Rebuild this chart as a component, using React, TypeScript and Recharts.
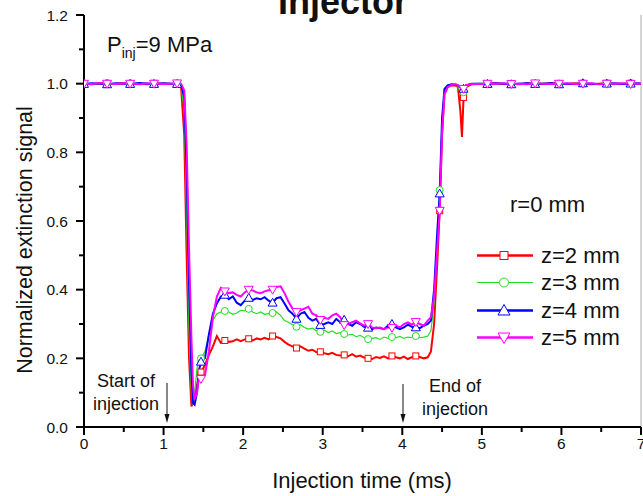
import { LineChart, Line, XAxis, YAxis, Legend, ReferenceLine } from 'recharts';

const time = [
  0, 0.1, 0.2, 0.29, 0.4, 0.5, 0.58, 0.7, 0.8, 0.88, 1.0, 1.1, 1.17,
  1.22, 1.26, 1.29, 1.32, 1.35, 1.37, 1.39, 1.42, 1.44,
  1.47, 1.52, 1.57, 1.62, 1.67, 1.72,
  1.77, 1.82, 1.87, 1.92, 1.97, 2.02, 2.07, 2.12, 2.17, 2.22,
  2.27, 2.32, 2.37, 2.42, 2.47, 2.52, 2.57, 2.62, 2.67, 2.72,
  2.77, 2.82, 2.87, 2.92, 2.97, 3.02, 3.07, 3.12, 3.17, 3.22,
  3.27, 3.32, 3.37, 3.42, 3.47, 3.52, 3.57, 3.62, 3.67, 3.72,
  3.77, 3.82, 3.87, 3.92, 3.97, 4.02, 4.07, 4.12, 4.17, 4.22,
  4.27, 4.32,
  4.36, 4.4, 4.44, 4.47, 4.5, 4.53, 4.57, 4.62, 4.67, 4.7, 4.73, 4.75, 4.77, 4.8, 4.87,
  4.97, 5.07, 5.17, 5.27, 5.37, 5.47, 5.57, 5.67, 5.77, 5.87, 5.97,
  6.07, 6.17, 6.27, 6.37, 6.47, 6.57, 6.67, 6.77, 6.87, 6.97, 7.0,
];

const z2 = [
  1.0, 0.998, 1.001, 0.999, 1.0, 1.002, 0.999, 1.0, 0.998, 1.001, 1.0, 0.999, 1.0,
  0.99, 0.85, 0.5, 0.2, 0.06, 0.07, 0.09, 0.12, 0.14,
  0.16, 0.18, 0.21, 0.235, 0.265, 0.245,
  0.252, 0.248, 0.25, 0.255, 0.25, 0.255, 0.257, 0.252, 0.258, 0.255,
  0.26, 0.255, 0.265, 0.262, 0.258, 0.248, 0.24, 0.235, 0.23, 0.235,
  0.228, 0.222, 0.225, 0.218, 0.219, 0.215, 0.212, 0.216, 0.21, 0.208,
  0.21, 0.206, 0.212, 0.205, 0.208, 0.202, 0.2, 0.198, 0.204, 0.201,
  0.206, 0.2, 0.207, 0.203, 0.2, 0.205, 0.198, 0.203, 0.207, 0.204,
  0.2, 0.203,
  0.22, 0.3, 0.48, 0.63, 0.85, 0.97, 0.99, 0.995, 0.995, 0.99, 0.92, 0.845, 0.96, 0.99, 0.998,
  0.999, 1.0, 1.001, 0.999, 1.0, 0.998, 1.001, 1.0, 0.999, 1.002, 1.0,
  0.999, 1.001, 1.0, 0.998, 1.0, 1.001, 0.999, 1.0, 1.001, 0.999, 1.0,
];

const z3 = [
  1.001, 1.0, 0.999, 1.002, 1.0, 0.999, 1.001, 1.0, 1.002, 0.999, 1.0, 1.001, 1.0,
  0.995, 0.92, 0.62, 0.28, 0.1, 0.065, 0.1, 0.17, 0.2,
  0.2, 0.22, 0.27, 0.31, 0.33, 0.335,
  0.338, 0.335, 0.328, 0.332, 0.34, 0.338, 0.344, 0.335, 0.33, 0.335,
  0.328, 0.33, 0.332, 0.335, 0.325, 0.31, 0.305, 0.298, 0.292, 0.298,
  0.29, 0.285, 0.288, 0.28, 0.277, 0.282, 0.275, 0.28, 0.272, 0.275,
  0.271, 0.268, 0.27, 0.263, 0.267, 0.26, 0.256, 0.258, 0.26, 0.255,
  0.262, 0.258, 0.262, 0.26, 0.264, 0.258, 0.262, 0.26, 0.265, 0.26,
  0.262, 0.265,
  0.28, 0.36, 0.55, 0.69, 0.9, 0.98, 0.995, 0.998, 0.997, 0.99, 0.975, 0.97, 0.975, 0.99, 1.0,
  1.001, 1.0, 0.999, 1.002, 1.0, 1.001, 0.999, 1.0, 1.002, 1.0, 0.999,
  1.001, 1.0, 1.002, 0.999, 1.0, 1.001, 1.0, 0.999, 1.002, 1.0, 1.0,
];

const z4 = [
  0.999, 1.001, 1.0, 0.998, 1.001, 1.0, 0.999, 1.002, 1.0, 0.999, 1.001, 1.0, 0.999,
  0.998, 0.96, 0.75, 0.42, 0.16, 0.07, 0.065, 0.1, 0.16,
  0.19, 0.2, 0.27, 0.33, 0.36, 0.38,
  0.385, 0.372, 0.38, 0.362, 0.355, 0.368, 0.376, 0.37, 0.375, 0.372,
  0.378, 0.368, 0.362, 0.375, 0.378, 0.36, 0.34, 0.33, 0.315, 0.33,
  0.335, 0.318, 0.31, 0.315, 0.297, 0.3, 0.305, 0.3, 0.315, 0.305,
  0.312, 0.3, 0.295, 0.305, 0.3, 0.292, 0.289, 0.285, 0.29, 0.288,
  0.285, 0.295, 0.3, 0.29, 0.285, 0.29, 0.298, 0.292, 0.29, 0.288,
  0.295, 0.3,
  0.31, 0.4, 0.57, 0.68, 0.9, 0.985, 0.995, 0.998, 0.997, 0.995, 0.99, 0.988, 0.985, 0.995, 1.0,
  1.0, 0.999, 1.001, 1.0, 0.998, 1.0, 1.001, 0.999, 1.0, 1.001, 0.998,
  1.0, 0.999, 1.001, 1.0, 0.999, 1.0, 1.001, 0.999, 1.0, 1.001, 1.0,
];

const z5 = [
  1.0, 0.999, 1.002, 1.0, 0.999, 1.001, 1.0, 0.998, 1.001, 1.0, 0.999, 1.0, 1.001,
  1.0, 0.98, 0.82, 0.52, 0.26, 0.12, 0.08, 0.1, 0.14,
  0.14, 0.15, 0.22, 0.32, 0.38, 0.405,
  0.395, 0.39, 0.392, 0.385, 0.38, 0.392, 0.4, 0.398, 0.392, 0.39,
  0.395, 0.398, 0.4, 0.408, 0.41, 0.39, 0.365, 0.345, 0.335, 0.34,
  0.345, 0.35, 0.33, 0.325, 0.312, 0.318, 0.315, 0.325, 0.33, 0.32,
  0.297, 0.3, 0.305, 0.31, 0.302, 0.295, 0.3, 0.29, 0.288, 0.29,
  0.285, 0.29, 0.289, 0.295, 0.29, 0.3, 0.305, 0.298, 0.306, 0.3,
  0.295, 0.31,
  0.32, 0.38, 0.52, 0.63, 0.86, 0.97, 0.99, 0.997, 0.998, 0.996, 0.99, 0.988, 0.985, 0.995, 0.999,
  0.999, 1.0, 1.0, 1.001, 0.999, 1.0, 0.998, 1.001, 1.0, 0.999, 1.0,
  1.001, 0.999, 1.0, 1.001, 0.998, 1.0, 1.0, 1.001, 0.999, 1.0, 1.0,
];

const markerTimes = [
  0, 0.29, 0.58, 0.88, 1.17, 1.47, 1.77, 2.07, 2.37, 2.67, 2.97, 3.27,
  3.57, 3.87, 4.17, 4.47, 4.77, 5.07, 5.37, 5.67, 5.97, 6.27, 6.57, 6.87,
];

const seriesNames = ['z=2 mm', 'z=3 mm', 'z=4 mm', 'z=5 mm'];
const xTicks = [0, 0.5, 1, 1.5, 2, 2.5, 3, 3.5, 4, 4.5, 5, 5.5, 6, 6.5, 7];
const yTicks = [0, 0.1, 0.2, 0.3, 0.4, 0.5, 0.6, 0.7, 0.8, 0.9, 1.0, 1.1, 1.2];

const data = time.map((t, i) => ({ t, z2: z2[i], z3: z3[i], z4: z4[i], z5: z5[i] }));

type Shape = 'square' | 'circle' | 'up' | 'down';

const series: { key: string; color: string; width: number; shape: Shape }[] = [
  { key: 'z2', color: '#ff0000', width: 2, shape: 'square' },
  { key: 'z3', color: '#22dd22', width: 1.2, shape: 'circle' },
  { key: 'z4', color: '#0000ff', width: 2, shape: 'up' },
  { key: 'z5', color: '#ff00ff', width: 2, shape: 'down' },
];

const FONT = '"Liberation Sans", Arial, sans-serif';

function Marker({ shape, cx, cy, size, color }: { shape: Shape; cx: number; cy: number; size: number; color: string }) {
  const h = size / 2;
  if (shape === 'square') {
    return <rect x={cx - h} y={cy - h} width={size} height={size} fill="#fff" stroke={color} strokeWidth={1} />;
  }
  if (shape === 'circle') {
    return <circle cx={cx} cy={cy} r={h} fill="#fff" stroke={color} strokeWidth={1} />;
  }
  if (shape === 'up') {
    return (
      <polygon
        points={`${cx},${cy - h} ${cx + h},${cy + h * 0.75} ${cx - h},${cy + h * 0.75}`}
        fill="#fff"
        stroke={color}
        strokeWidth={1}
      />
    );
  }
  return (
    <polygon
      points={`${cx},${cy + h} ${cx + h},${cy - h * 0.75} ${cx - h},${cy - h * 0.75}`}
      fill="#fff"
      stroke={color}
      strokeWidth={1}
    />
  );
}

function XTick(props: any) {
  const { x, y, payload } = props;
  const major = Number.isInteger(payload.value);
  return (
    <g>
      <line x1={x} y1={y} x2={x} y2={y + (major ? 8 : 5)} stroke="#000" strokeWidth={2} />
      {major && (
        <text x={x} y={y + 22} textAnchor="middle" fontSize={15.5} fontFamily={FONT} fill="#111">
          {payload.value}
        </text>
      )}
    </g>
  );
}

function YTick(props: any) {
  const { x, y, payload } = props;
  const major = Math.round(payload.value * 10) % 2 === 0;
  return (
    <g>
      <line x1={x} y1={y} x2={x - (major ? 8 : 5)} y2={y} stroke="#000" strokeWidth={2} />
      {major && (
        <text x={x - 16} y={y + 5.5} textAnchor="end" fontSize={15.5} fontFamily={FONT} fill="#111">
          {payload.value.toFixed(1)}
        </text>
      )}
    </g>
  );
}

function LegendBox() {
  return (
    <div style={{ fontFamily: FONT }}>
      {series.map((s, i) => (
        <div key={s.key} style={{ display: 'flex', alignItems: 'center', height: 27.3 }}>
          <svg width={64} height={27} style={{ display: 'block' }}>
            <line x1={0} y1={13.5} x2={56} y2={13.5} stroke={s.color} strokeWidth={s.width < 2 ? 1 : 2.5} />
            <Marker shape={s.shape} cx={27} cy={13.5} size={s.shape === 'square' ? 8 : s.shape === 'circle' ? 9 : 12} color={s.color} />
          </svg>
          <span style={{ fontSize: 22, color: '#111', lineHeight: '27px' }}>{seriesNames[i]}</span>
        </div>
      ))}
    </div>
  );
}

export default function App() {
  return (
    <div style={{ position: 'fixed', left: 0, top: 0, width: 643, height: 496, background: '#fff' }}>
      <LineChart width={643} height={496} data={data} margin={{ top: 15, right: 2, bottom: 0, left: 0 }}>
        <XAxis
          dataKey="t"
          type="number"
          domain={[0, 7]}
          ticks={xTicks}
          interval={0}
          height={69}
          tickSize={0}
          tickMargin={0}
          tickLine={false}
          tick={<XTick />}
          axisLine={{ stroke: '#000', strokeWidth: 2 }}
          allowDataOverflow
        />
        <YAxis
          type="number"
          domain={[0, 1.2]}
          ticks={yTicks}
          interval={0}
          width={84}
          tickSize={0}
          tickMargin={0}
          tickLine={false}
          tick={<YTick />}
          axisLine={{ stroke: '#000', strokeWidth: 2 }}
          allowDataOverflow
        />
        <ReferenceLine x={7} stroke="#aaaaaa" strokeWidth={1} />
        {series.map((s, i) => (
          <Line
            key={s.key}
            type="linear"
            dataKey={s.key}
            name={seriesNames[i]}
            stroke={s.color}
            strokeWidth={s.width}
            isAnimationActive={false}
            activeDot={false}
            dot={(p: any) =>
              markerTimes.includes(p.payload.t) ? (
                <Marker
                  key={`${s.key}-${p.index}`}
                  shape={s.shape}
                  cx={p.cx}
                  cy={p.cy}
                  size={s.shape === 'square' ? 6 : s.shape === 'circle' ? 7 : 9}
                  color={s.color}
                />
              ) : (
                <g key={`${s.key}-${p.index}`} />
              )
            }
          />
        ))}
        <Legend
          layout="vertical"
          align="center"
          verticalAlign="middle"
          content={() => <LegendBox />}
          wrapperStyle={{ left: 477, top: 242, width: 160 }}
        />
      </LineChart>
      <svg
        width={643}
        height={496}
        style={{ position: 'absolute', left: 0, top: 0, pointerEvents: 'none' }}
        fontFamily={FONT}
      >
        <text x={343} y={14} textAnchor="middle" fontSize={36} fontWeight="bold" fill="#111">
          Injector
        </text>
        <text x={107} y={52} fontSize={22} fill="#111">
          P
          <tspan fontSize={14} dy={6}>inj</tspan>
          <tspan dy={-6}>=9 MPa</tspan>
        </text>
        <text x={510} y={212} fontSize={22} fill="#111">r=0 mm</text>
        <text x={126} y={387} textAnchor="middle" fontSize={18} fill="#111">Start of</text>
        <text x={126} y={410} textAnchor="middle" fontSize={18} fill="#111">injection</text>
        <line x1={167} y1={383} x2={167} y2={416} stroke="#111" strokeWidth={1} />
        <polygon points="164.5,414 169.5,414 167,423" fill="#111" />
        <text x={455} y={392} textAnchor="middle" fontSize={18} fill="#111">End of</text>
        <text x={455} y={415} textAnchor="middle" fontSize={18} fill="#111">injection</text>
        <line x1={403} y1={384} x2={403} y2={416} stroke="#111" strokeWidth={1} />
        <polygon points="400.5,414 405.5,414 403,423" fill="#111" />
        <text x={362} y={488} textAnchor="middle" fontSize={22} fill="#111">Injection time (ms)</text>
        <text transform="rotate(-90)" x={-240} y={32} textAnchor="middle" fontSize={21.5} fill="#111">
          Normalized extinction signal
        </text>
      </svg>
    </div>
  );
}
